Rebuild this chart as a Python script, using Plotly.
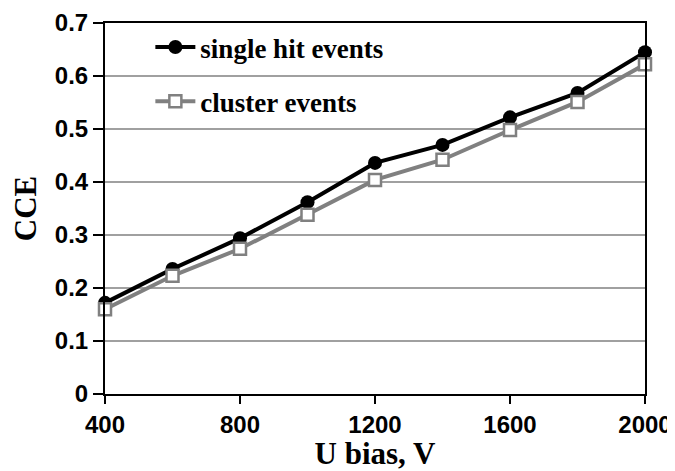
import plotly.graph_objects as go

u_bias = [400, 600, 800, 1000, 1200, 1400, 1600, 1800, 2000]
single_hit = [0.172, 0.236, 0.294, 0.362, 0.436, 0.470, 0.522, 0.568, 0.645]
cluster = [0.160, 0.223, 0.274, 0.338, 0.404, 0.442, 0.498, 0.551, 0.622]
x_ticks = [400, 800, 1200, 1600, 2000]
y_ticks = [0, 0.1, 0.2, 0.3, 0.4, 0.5, 0.6, 0.7]

fig = go.Figure()
fig.add_trace(go.Scatter(
    x=u_bias, y=single_hit, name="single hit events", mode="lines+markers",
    line=dict(color="black", width=4),
    marker=dict(symbol="circle", size=14, color="black"),
    cliponaxis=False, legendgroup="a"))
fig.add_trace(go.Scatter(
    x=u_bias, y=cluster, name="cluster events", mode="lines+markers",
    line=dict(color="#808080", width=4),
    marker=dict(symbol="square", size=12, color="white", line=dict(color="#808080", width=2.5)),
    cliponaxis=False, legendgroup="b"))

# page body has an 8px default margin, so the figure is sized to fill the rest
fig.update_layout(
    width=667, height=463,
    margin=dict(l=97, r=30, t=15, b=77),
    plot_bgcolor="white", paper_bgcolor="white",
    showlegend=True,
    legend=dict(x=0.084, y=1.0, xanchor="left", yanchor="top",
                bgcolor="rgba(0,0,0,0)", traceorder="grouped", tracegroupgap=16,
                font=dict(family="Liberation Serif", size=27, color="black", weight="bold"),
                itemwidth=40),
    xaxis=dict(range=[400, 2000], tickvals=x_ticks, ticktext=[str(v) for v in x_ticks],
               automargin=False,
               showgrid=False, zeroline=False, showline=True, linecolor="black", linewidth=2,
               mirror=True, ticks="outside", ticklen=8, tickwidth=2, tickcolor="black",
               tickfont=dict(family="Liberation Sans", size=24, color="black", weight="bold"),
               title=dict(text="U bias, V", standoff=20,
                          font=dict(family="Liberation Serif", size=31, color="black", weight="bold"))),
    yaxis=dict(range=[0, 0.7], tickvals=y_ticks, ticktext=["0", "0.1", "0.2", "0.3", "0.4", "0.5", "0.6", "0.7"],
               automargin=False,
               showgrid=True, gridcolor="#a0a0a0", gridwidth=1.5, zeroline=False,
               showline=True, linecolor="black", linewidth=2, mirror=True,
               ticks="outside", ticklen=10, tickwidth=1.5, tickcolor="black",
               tickfont=dict(family="Liberation Sans", size=24, color="black", weight="bold"),
               title=dict(text="CCE", standoff=15,
                          font=dict(family="Liberation Serif", size=31, color="black", weight="bold"))),
)
fig.write_html("out.html")
